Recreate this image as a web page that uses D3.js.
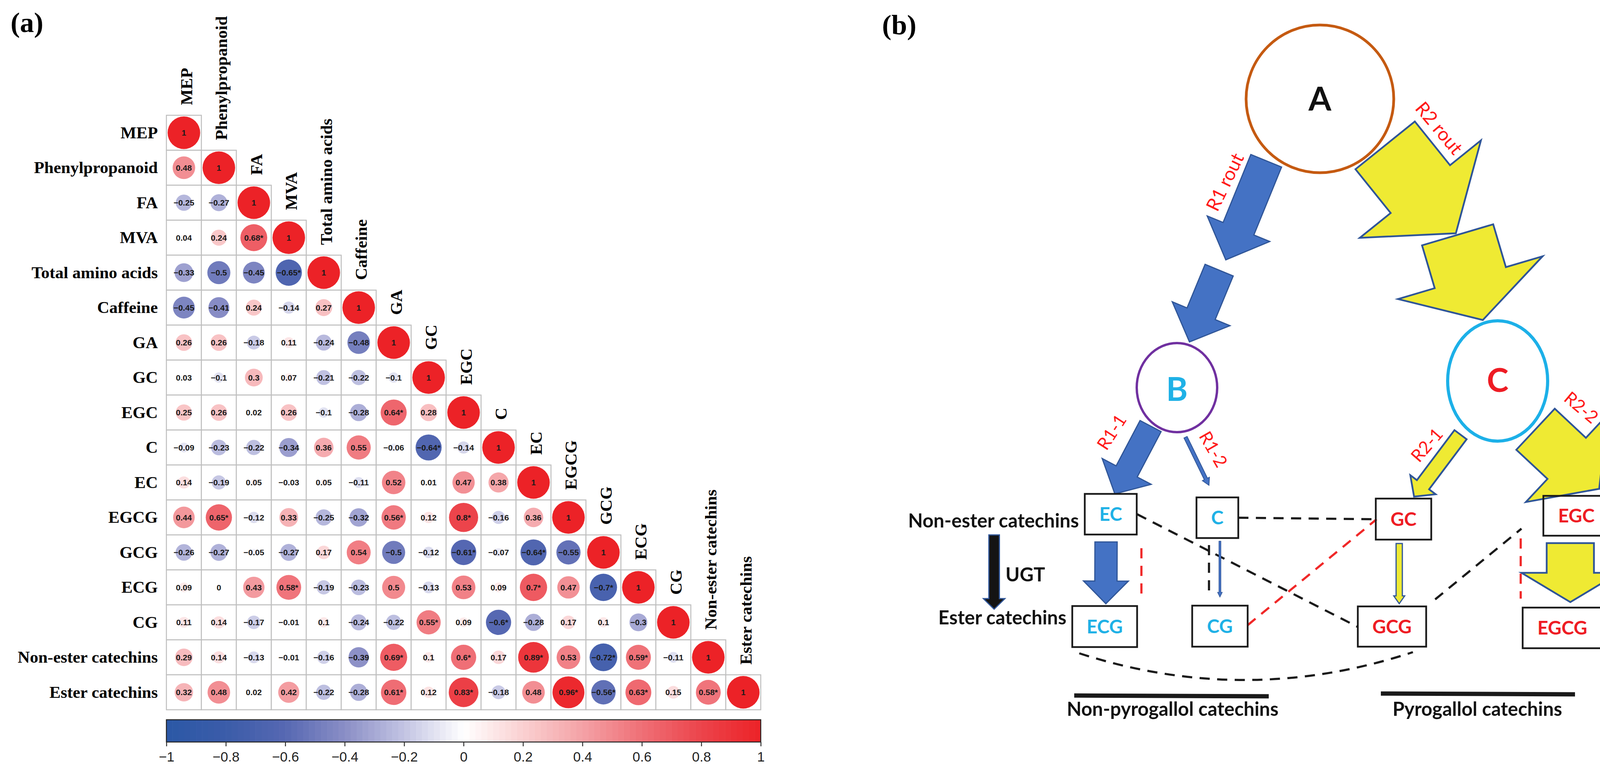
<!DOCTYPE html>
<html>
<head>
<meta charset="utf-8">
<script src="https://cdn.jsdelivr.net/npm/d3@7"></script>
<style>
  body { margin: 0; background: #fff; }
  svg { display: block; }
</style>
</head>
<body>
<script>
// ---------- panel (a) data ----------
var variables = ["MEP", "Phenylpropanoid", "FA", "MVA", "Total amino acids", "Caffeine", "GA", "GC",
  "EGC", "C", "EC", "EGCG", "GCG", "ECG", "CG", "Non-ester catechins", "Ester catechins"]

// lower triangle, row by row (diagonal included)
var corrRows = [
  [1],
  [0.48, 1],
  [-0.25, -0.27, 1],
  [0.04, 0.24, 0.68, 1],
  [-0.33, -0.5, -0.45, -0.65, 1],
  [-0.45, -0.41, 0.24, -0.14, 0.27, 1],
  [0.26, 0.26, -0.18, 0.11, -0.24, -0.48, 1],
  [0.03, -0.1, 0.3, 0.07, -0.21, -0.22, -0.1, 1],
  [0.25, 0.26, 0.02, 0.26, -0.1, -0.28, 0.64, 0.28, 1],
  [-0.09, -0.23, -0.22, -0.34, 0.36, 0.55, -0.06, -0.64, -0.14, 1],
  [0.14, -0.19, 0.05, -0.03, 0.05, -0.11, 0.52, 0.01, 0.47, 0.38, 1],
  [0.44, 0.65, -0.12, 0.33, -0.25, -0.32, 0.56, 0.12, 0.8, -0.16, 0.36, 1],
  [-0.26, -0.27, -0.05, -0.27, 0.17, 0.54, -0.5, -0.12, -0.61, -0.07, -0.64, -0.55, 1],
  [0.09, 0, 0.43, 0.58, -0.19, -0.23, 0.5, -0.13, 0.53, 0.09, 0.7, 0.47, -0.7, 1],
  [0.11, 0.14, -0.17, -0.01, 0.1, -0.24, -0.22, 0.55, 0.09, -0.6, -0.28, 0.17, 0.1, -0.3, 1],
  [0.29, 0.14, -0.13, -0.01, -0.16, -0.39, 0.69, 0.1, 0.6, 0.17, 0.89, 0.53, -0.72, 0.59, -0.11, 1],
  [0.32, 0.48, 0.02, 0.42, -0.22, -0.28, 0.61, 0.12, 0.83, -0.18, 0.48, 0.96, -0.56, 0.63, 0.15, 0.58, 1]
]

// [row, col] of the values marked with *
var sigCells = [[3, 2], [4, 3], [8, 6], [9, 7], [11, 1], [11, 6], [11, 8], [12, 8], [12, 10],
  [13, 3], [13, 10], [13, 12], [14, 7], [14, 9], [15, 6], [15, 8], [15, 10], [15, 12], [15, 13],
  [16, 6], [16, 8], [16, 11], [16, 12], [16, 13], [16, 15]]

var colorTicks = [-1, -0.8, -0.6, -0.4, -0.2, 0, 0.2, 0.4, 0.6, 0.8, 1]

// ---------- panel (b) data ----------
var boxNames = ["EC", "C", "GC", "EGC", "ECG", "CG", "GCG", "EGCG"]
var routeNames = ["R1 rout", "R2 rout", "R1-1", "R1-2", "R2-1", "R2-2"]

var W = 4168, H = 1986
var svg = d3.select('body').append('svg').attr('width', W).attr('height', H)
svg.append('rect').attr('width', W).attr('height', H).attr('fill', '#fff')

var serif = '"Liberation Serif", "Times New Roman", serif'
var sans = '"Liberation Sans", Arial, sans-serif'
var calib = 'Lato, "Open Sans", sans-serif'

// ================= panel (a) =================
var n = variables.length
var mLeft = 426, mTop = 295, cell = 89.5
var x = d3.scaleBand().domain(d3.range(n)).range([mLeft, mLeft + n * cell])
var y = d3.scaleBand().domain(d3.range(n)).range([mTop, mTop + n * cell])

var color = d3.scaleLinear()
  .domain([-1, -0.8, -0.6, -0.4, -0.2, 0, 0.2, 0.4, 0.6, 0.8, 1])
  .range(["#2B58A6", "#3B5CA9", "#5668B2", "#8A8EC6", "#C3C4E3", "#FFFFFF",
    "#FAD0D1", "#F4A2A6", "#EF6F76", "#EC444B", "#EC2227"])
var rScale = d3.scaleSqrt().domain([0, 1]).range([0, cell * 0.466])

var sigSet = {}
sigCells.forEach(function (d) { sigSet[d[0] + '-' + d[1]] = true })

var cells = []
corrRows.forEach(function (row, i) {
  row.forEach(function (v, j) { cells.push({i: i, j: j, v: v}) })
})

var pa = svg.append('g')

pa.append('text').attr('x', 27).attr('y', 82)
  .attr('font-family', serif).attr('font-weight', 'bold').attr('font-size', 72)
  .text('(a)')

var cg = pa.selectAll('g.cell').data(cells).enter().append('g')
  .attr('transform', function (d) { return 'translate(' + x(d.j) + ',' + y(d.i) + ')' })
cg.append('rect').attr('width', cell).attr('height', cell)
  .attr('fill', '#fff').attr('stroke', '#BEBEBE').attr('stroke-width', 2.5)
cg.append('circle').attr('cx', cell / 2).attr('cy', cell / 2)
  .attr('r', function (d) { return rScale(Math.abs(d.v)) })
  .attr('fill', function (d) { return color(d.v) })
cg.append('text').attr('x', cell / 2).attr('y', cell / 2).attr('dy', '0.36em')
  .attr('text-anchor', 'middle').attr('font-family', sans).attr('font-weight', 'bold')
  .attr('font-size', 21).attr('fill', '#1a1a1a')
  .text(function (d) {
    return String(d.v).replace('-', '\u2212') + (sigSet[d.i + '-' + d.j] ? '*' : '')
  })

// row labels
pa.selectAll('text.rowlab').data(variables).enter().append('text')
  .attr('x', mLeft - 22).attr('y', function (d, i) { return y(i) + cell / 2 })
  .attr('dy', '0.33em').attr('text-anchor', 'end')
  .attr('font-family', serif).attr('font-weight', 'bold').attr('font-size', 43)
  .text(function (d) { return d })

// column labels (above each diagonal cell)
pa.selectAll('text.collab').data(variables).enter().append('text')
  .attr('transform', function (d, i) {
    return 'translate(' + (x(i) + cell / 2 + 21) + ',' + (y(i) - 26) + ') rotate(-90)'
  })
  .attr('font-family', serif).attr('font-weight', 'bold').attr('font-size', 43)
  .text(function (d) { return d })

// colour bar
var cbTop = 1842, cbH = 57
var cbx = d3.scaleLinear().domain([-1, 1]).range([mLeft, mLeft + n * cell])
var bands = d3.range(-1, 1, 0.02)
pa.selectAll('rect.band').data(bands).enter().append('rect')
  .attr('x', function (d) { return cbx(d) }).attr('y', cbTop)
  .attr('width', cbx(0.02) - cbx(0) + 0.6).attr('height', cbH)
  .attr('fill', function (d) { return color(d + 0.01) })
pa.append('rect').attr('x', cbx(-1)).attr('y', cbTop).attr('width', cbx(1) - cbx(-1)).attr('height', cbH)
  .attr('fill', 'none').attr('stroke', '#222').attr('stroke-width', 2.5)
var axis = d3.axisBottom(cbx).tickValues(colorTicks).tickSize(11).tickPadding(14)
  .tickFormat(function (d) { return String(+d.toFixed(1)).replace('-', '\u2212') })
var ag = pa.append('g').attr('transform', 'translate(0,' + (cbTop + cbH) + ')').call(axis)
ag.select('.domain').remove()
ag.selectAll('line').attr('stroke', '#333').attr('stroke-width', 2.5)
ag.selectAll('text').attr('font-family', sans).attr('font-size', 35).attr('fill', '#222')

// ================= panel (b) =================
var pb = svg.append('g')
pb.append('text').attr('x', 2258).attr('y', 88)
  .attr('font-family', serif).attr('font-weight', 'bold').attr('font-size', 72)
  .text('(b)')

var blueFill = '#4472C4', blueLine = '#2F5597', yellow = '#EFEA33', redTxt = '#EE1C24', cyanTxt = '#1FB1E6'

// block arrow polygon from tail centre to tip
function arrowPoints(a) {
  var dx = a.tip[0] - a.tail[0], dy = a.tip[1] - a.tail[1]
  var len = Math.sqrt(dx * dx + dy * dy)
  var ux = dx / len, uy = dy / len, px = -uy, py = ux
  var bx = a.tip[0] - ux * a.hl, by = a.tip[1] - uy * a.hl
  var s = a.sw / 2, h = a.hw / 2
  return [
    [a.tail[0] + px * s, a.tail[1] + py * s],
    [bx + px * s, by + py * s],
    [bx + px * h, by + py * h],
    a.tip,
    [bx - px * h, by - py * h],
    [bx - px * s, by - py * s],
    [a.tail[0] - px * s, a.tail[1] - py * s]
  ]
}

var arrows = [
  {tail: [3241.5, 411.5], tip: [3138, 665], sw: 85, hw: 173, hl: 86, fill: blueFill, sw2: 3},
  {tail: [3121, 691.5], tip: [3045, 875], sw: 78, hw: 160, hl: 78, fill: blueFill, sw2: 3},
  {tail: [3546, 372], tip: [3727, 597], sw: 195, hw: 398, hl: 145, fill: yellow, sw2: 4.5},
  {tail: [3731.5, 601], tip: [3796, 819], sw: 190, hw: 386, hl: 113, fill: yellow, sw2: 4.5},
  {tail: [2945.5, 1090.5], tip: [2854, 1264], sw: 61, hw: 142, hl: 65, fill: blueFill, sw2: 3},
  {tail: [3035, 1119], tip: [3095, 1242], sw: 9, hw: 20, hl: 18, fill: blueFill, sw2: 2},
  {tail: [3739, 1112.5], tip: [3620, 1271], sw: 39, hw: 81, hl: 38, fill: yellow, sw2: 4.5},
  {tail: [3931, 1098.5], tip: [4094, 1251], sw: 144, hw: 306, hl: 114, fill: yellow, sw2: 4.5},
  {tail: [2831.5, 1387], tip: [2831, 1545], sw: 57, hw: 115, hl: 58, fill: blueFill, sw2: 3},
  {tail: [3123, 1385], tip: [3123, 1528], sw: 5, hw: 12, hl: 12, fill: blueFill, sw2: 1.5},
  {tail: [3582, 1391], tip: [3582, 1545], sw: 16, hw: 28, hl: 20, fill: yellow, sw2: 3},
  {tail: [4020, 1390], tip: [4020, 1541], sw: 121, hw: 250, hl: 75, fill: yellow, sw2: 4.5},
  {tail: [2545, 1369], tip: [2545, 1559], sw: 27, hw: 55, hl: 27, fill: '#141414', sw2: 3}
]

// dashed connectors
var dashes = [
  {p: [[2911, 1316], [3475, 1604]], c: '#1a1a1a'},
  {p: [[3170, 1325], [3523, 1329]], c: '#1a1a1a'},
  {p: [[3194, 1600], [3524, 1329]], c: '#F02828'},
  {p: [[3095, 1395], [3095, 1518]], c: '#1a1a1a'},
  {p: [[2922, 1403], [2922, 1523]], c: '#F02828'},
  {p: [[3674, 1534], [3895, 1353]], c: '#1a1a1a'},
  {p: [[3893, 1378], [3893, 1532]], c: '#F02828'}
]
pb.selectAll('line.dash').data(dashes).enter().append('line')
  .attr('x1', function (d) { return d.p[0][0] }).attr('y1', function (d) { return d.p[0][1] })
  .attr('x2', function (d) { return d.p[1][0] }).attr('y2', function (d) { return d.p[1][1] })
  .attr('stroke', function (d) { return d.c }).attr('stroke-width', 5.5)
  .attr('stroke-dasharray', '26,19')
var curve = d3.path()
curve.moveTo(2763, 1672)
curve.quadraticCurveTo(3190, 1810, 3617, 1669)
pb.append('path').attr('d', curve.toString()).attr('fill', 'none')
  .attr('stroke', '#1a1a1a').attr('stroke-width', 5.5).attr('stroke-dasharray', '26,19')

// circles
var nodes = [
  {label: 'A', cx: 3379, cy: 253, rx: 189, ry: 189, stroke: '#C55A11', sw: 7, txt: '#111', by: 283},
  {label: 'B', cx: 3013, cy: 992, rx: 103, ry: 114, stroke: '#7030A0', sw: 6, txt: cyanTxt, by: 1026},
  {label: 'C', cx: 3834, cy: 975, rx: 128, ry: 154, stroke: '#1CB0E8', sw: 8, txt: redTxt, by: 1003}
]
pb.selectAll('ellipse').data(nodes).enter().append('ellipse')
  .attr('cx', function (d) { return d.cx }).attr('cy', function (d) { return d.cy })
  .attr('rx', function (d) { return d.rx }).attr('ry', function (d) { return d.ry })
  .attr('fill', 'none').attr('stroke', function (d) { return d.stroke })
  .attr('stroke-width', function (d) { return d.sw })
pb.selectAll('text.node').data(nodes).enter().append('text')
  .attr('x', function (d) { return d.cx }).attr('y', function (d) { return d.by })
  .attr('text-anchor', 'middle').attr('font-family', calib).attr('font-weight', 'bold')
  .attr('font-size', 84).attr('fill', function (d) { return d.txt })
  .text(function (d) { return d.label })

pb.selectAll('polygon').data(arrows).enter().append('polygon')
  .attr('points', function (d) { return arrowPoints(d).map(function (p) { return p.join(',') }).join(' ') })
  .attr('fill', function (d) { return d.fill }).attr('stroke', blueLine)
  .attr('stroke-width', function (d) { return d.sw2 }).attr('stroke-linejoin', 'miter')

// route labels
var routePos = [
  {x: 3136, y: 466, a: -64, fs: 48},
  {x: 3684, y: 328, a: 50, fs: 48},
  {x: 2846, y: 1106, a: -57, fs: 45},
  {x: 3106, y: 1150, a: 60, fs: 45},
  {x: 3653, y: 1139, a: -49, fs: 45},
  {x: 4048, y: 1043, a: 40, fs: 45}
]
pb.selectAll('text.route').data(routeNames).enter().append('text')
  .attr('transform', function (d, i) {
    return 'translate(' + routePos[i].x + ',' + routePos[i].y + ') rotate(' + routePos[i].a + ')'
  })
  .attr('text-anchor', 'middle').attr('dy', '0.35em')
  .attr('font-family', calib).attr('font-size', function (d, i) { return routePos[i].fs })
  .attr('fill', '#FF1A1A')
  .text(function (d) { return d })

// boxes
var boxPos = [
  [2777, 1264, 2910, 1368], [3063, 1273, 3170, 1377], [3522, 1276, 3664, 1381], [3951, 1269, 4120, 1371],
  [2745, 1551, 2911, 1656], [3052, 1550, 3194, 1655], [3476, 1552, 3651, 1655], [3898, 1555, 4101, 1659]
]
var boxColor = [cyanTxt, cyanTxt, redTxt, redTxt, cyanTxt, cyanTxt, redTxt, redTxt]
var bg = pb.selectAll('g.box').data(boxNames).enter().append('g')
bg.append('rect')
  .attr('x', function (d, i) { return boxPos[i][0] }).attr('y', function (d, i) { return boxPos[i][1] })
  .attr('width', function (d, i) { return boxPos[i][2] - boxPos[i][0] })
  .attr('height', function (d, i) { return boxPos[i][3] - boxPos[i][1] })
  .attr('fill', 'none').attr('stroke', '#1a1a1a').attr('stroke-width', 4.5)
bg.append('text')
  .attr('x', function (d, i) { return (boxPos[i][0] + boxPos[i][2]) / 2 })
  .attr('y', function (d, i) { return (boxPos[i][1] + boxPos[i][3]) / 2 + 17 })
  .attr('text-anchor', 'middle').attr('font-family', calib).attr('font-weight', 'bold')
  .attr('font-size', 48).attr('fill', function (d, i) { return boxColor[i] })
  .text(function (d) { return d })

// group bars and side labels
pb.append('line').attr('x1', 2750).attr('y1', 1780).attr('x2', 3248).attr('y2', 1782)
  .attr('stroke', '#1a1a1a').attr('stroke-width', 11)
pb.append('line').attr('x1', 3535).attr('y1', 1775).attr('x2', 4032).attr('y2', 1777)
  .attr('stroke', '#1a1a1a').attr('stroke-width', 11)

var sideLabels = [
  {t: 'Non-ester catechins', x: 2762, y: 1350, anchor: 'end'},
  {t: 'Ester catechins', x: 2730, y: 1598, anchor: 'end'},
  {t: 'UGT', x: 2574, y: 1488, anchor: 'start'},
  {t: 'Non-pyrogallol catechins', x: 3002, y: 1832, anchor: 'middle'},
  {t: 'Pyrogallol catechins', x: 3782, y: 1832, anchor: 'middle'}
]
pb.selectAll('text.side').data(sideLabels).enter().append('text')
  .attr('x', function (d) { return d.x }).attr('y', function (d) { return d.y })
  .attr('text-anchor', function (d) { return d.anchor })
  .attr('font-family', calib).attr('font-weight', 'bold').attr('font-size', 49).attr('fill', '#111')
  .text(function (d) { return d.t })
</script>
</body>
</html>
